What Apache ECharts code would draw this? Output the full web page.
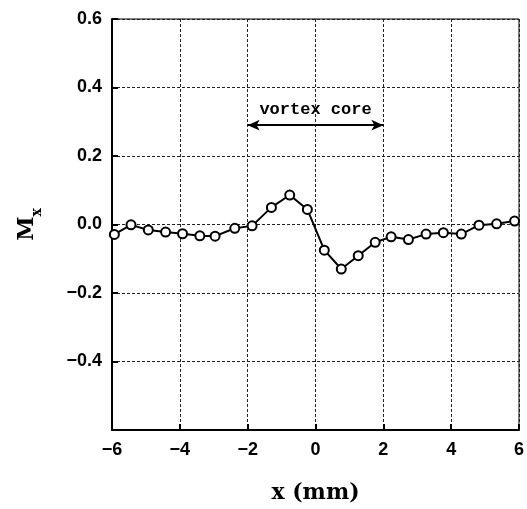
<!DOCTYPE html>
<html>
<head>
<meta charset="utf-8">
<script src="https://cdn.jsdelivr.net/npm/echarts@6/dist/echarts.min.js"></script>
<style>html,body{margin:0;padding:0;background:#fff;}#c{width:527px;height:509px;}</style>
</head>
<body>
<div id="c"></div>
<script>
const xValues = [-5.93, -5.44, -4.93, -4.42, -3.92, -3.41, -2.96, -2.38, -1.87, -1.30, -0.76, -0.24,
                 0.26, 0.76, 1.26, 1.76, 2.23, 2.74, 3.26, 3.77, 4.30, 4.82, 5.34, 5.87];
const mxValues = [-0.029, -0.001, -0.016, -0.022, -0.027, -0.033, -0.034, -0.011, -0.004, 0.050, 0.086, 0.044,
                  -0.075, -0.130, -0.091, -0.052, -0.036, -0.044, -0.028, -0.024, -0.028, -0.002, 0.002, 0.010];
const xTicks = [-6, -4, -2, 0, 2, 4, 6];
const yTicks = [-0.6, -0.4, -0.2, 0.0, 0.2, 0.4, 0.6];
const coreRange = [-2, 2];
const coreArrowY = 0.29;
const coreLabelY = 0.335;
const coreLabel = 'vortex core';

const chart = echarts.init(document.getElementById('c'));
const minus = v => (v < 0 ? '\u2212' : '');
const fmtX = v => minus(v) + Math.abs(v).toFixed(0);
const fmtY = v => minus(v) + Math.abs(v).toFixed(1);
const gridLine = {show: true, lineStyle: {color: '#222', width: 1, type: [3, 2]}};
chart.setOption({
  animation: false,
  grid: {left: 112, right: 7, top: 19, bottom: 76, show: true, borderColor: '#000', borderWidth: 1, backgroundColor: 'transparent'},
  xAxis: {
    type: 'value', min: xTicks[0], max: xTicks[xTicks.length - 1], interval: 2,
    name: 'x (mm)', nameLocation: 'middle', nameGap: 52,
    nameTextStyle: {fontFamily: 'DejaVu Serif', fontWeight: 'bold', fontSize: 22, color: '#000'},
    axisLine: {onZero: false, lineStyle: {color: '#000', width: 2}},
    axisTick: {inside: true, length: 6, lineStyle: {color: '#000', width: 2}},
    axisLabel: {formatter: fmtX, fontFamily: 'Liberation Sans', fontWeight: 'bold', fontSize: 18, color: '#000', margin: 11},
    splitLine: gridLine
  },
  yAxis: {
    type: 'value', min: yTicks[0], max: yTicks[yTicks.length - 1], interval: 0.2,
    name: '{m|M}{s|x}', nameLocation: 'middle', nameGap: 74, nameRotate: 90,
    nameTextStyle: {rich: {
      m: {fontFamily: 'DejaVu Serif', fontWeight: 'bold', fontSize: 22, color: '#000'},
      s: {fontFamily: 'DejaVu Serif', fontWeight: 'bold', fontSize: 14, color: '#000', verticalAlign: 'bottom', padding: [0, 0, -6, 0]}
    }},
    axisLine: {onZero: false, lineStyle: {color: '#000', width: 2}},
    axisTick: {inside: true, length: 6, lineStyle: {color: '#000', width: 2}},
    axisLabel: {formatter: v => (Math.abs(v + 0.6) < 1e-6 ? '' : fmtY(v)), fontFamily: 'Liberation Sans', fontWeight: 'bold', fontSize: 18, color: '#000', margin: 10},
    splitLine: gridLine
  },
  series: [{
    type: 'line',
    data: xValues.map((x, i) => [x, mxValues[i]]),
    symbol: 'circle', symbolSize: 9,
    itemStyle: {color: '#fff', borderColor: '#000', borderWidth: 2},
    lineStyle: {color: '#000', width: 2},
    z: 5,
    markLine: {
      silent: true, symbol: ['arrow', 'arrow'], symbolSize: [8, 12],
      lineStyle: {color: '#000', width: 2, type: 'solid'},
      label: {show: false},
      data: [[{coord: [coreRange[0], coreArrowY]}, {coord: [coreRange[1], coreArrowY]}]]
    },
    markPoint: {
      silent: true, symbol: 'circle', symbolSize: 0,
      label: {show: true, formatter: coreLabel, fontFamily: 'Liberation Mono', fontWeight: 'bold', fontSize: 17, color: '#000'},
      data: [{coord: [(coreRange[0] + coreRange[1]) / 2, coreLabelY]}]
    }
  }]
});
</script>
</body>
</html>
